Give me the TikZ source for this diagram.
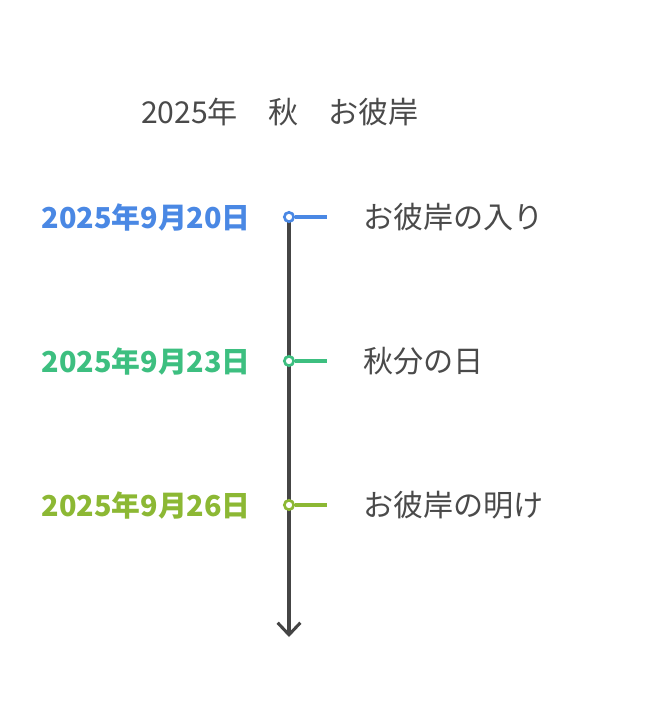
\documentclass[tikz,border=0pt]{standalone}
\usepackage{fontspec}
\setmainfont{Noto Sans CJK JP}
\usepackage{tikz}
\usetikzlibrary{arrows.meta}
\definecolor{textgray}{HTML}{4A4A4A}
\definecolor{axisgray}{HTML}{454545}
\definecolor{dayblue}{HTML}{4A88E4}
\definecolor{daygreen}{HTML}{3DBF80}
\definecolor{daylime}{HTML}{8CB834}

\begin{document}
\begin{tikzpicture}[x=0.75pt,y=-0.75pt]
	\tikzstyle{date}=[anchor=east,inner sep=0pt,font=\fontsize{21.6}{26}\selectfont\bfseries]
	\tikzstyle{event}=[anchor=west,inner sep=0pt,text=textgray,font=\fontsize{22.6}{27}\selectfont]
	\tikzstyle{marker}=[circle,draw,fill=white,line width=2pt,inner sep=0pt,minimum size=7pt]
	\useasboundingbox (0,0) rectangle (669,713);
	\node[event,anchor=center] (title) at (280,112) {2025年　秋　お彼岸};
	% axis
	\coordinate (top) at (289,217);
	\coordinate (bottom) at (289,637);
	\draw[axisgray,line width=2.3pt,-{Straight Barb[length=9pt,width=17pt,line width=2.3pt]}] (top) -- (bottom);
	% the three days
	\foreach \i/\y/\c/\dd/\e in {1/217/dayblue/20/お彼岸の入り, 2/361/daygreen/23/秋分の日, 3/505/daylime/26/お彼岸の明け}{
		\node[marker,draw=\c](m\i) at (289,\y) {};
		\coordinate (t\i) at (327,\y);
		\draw[\c,line width=2.4pt] (m\i) -- (t\i);
		\node[date,text=\c](d\i) at (251,\y) {2025年9月\dd{}日};
		\node[event](e\i) at (363,\y) {\e};
	}
\end{tikzpicture}
\end{document}
